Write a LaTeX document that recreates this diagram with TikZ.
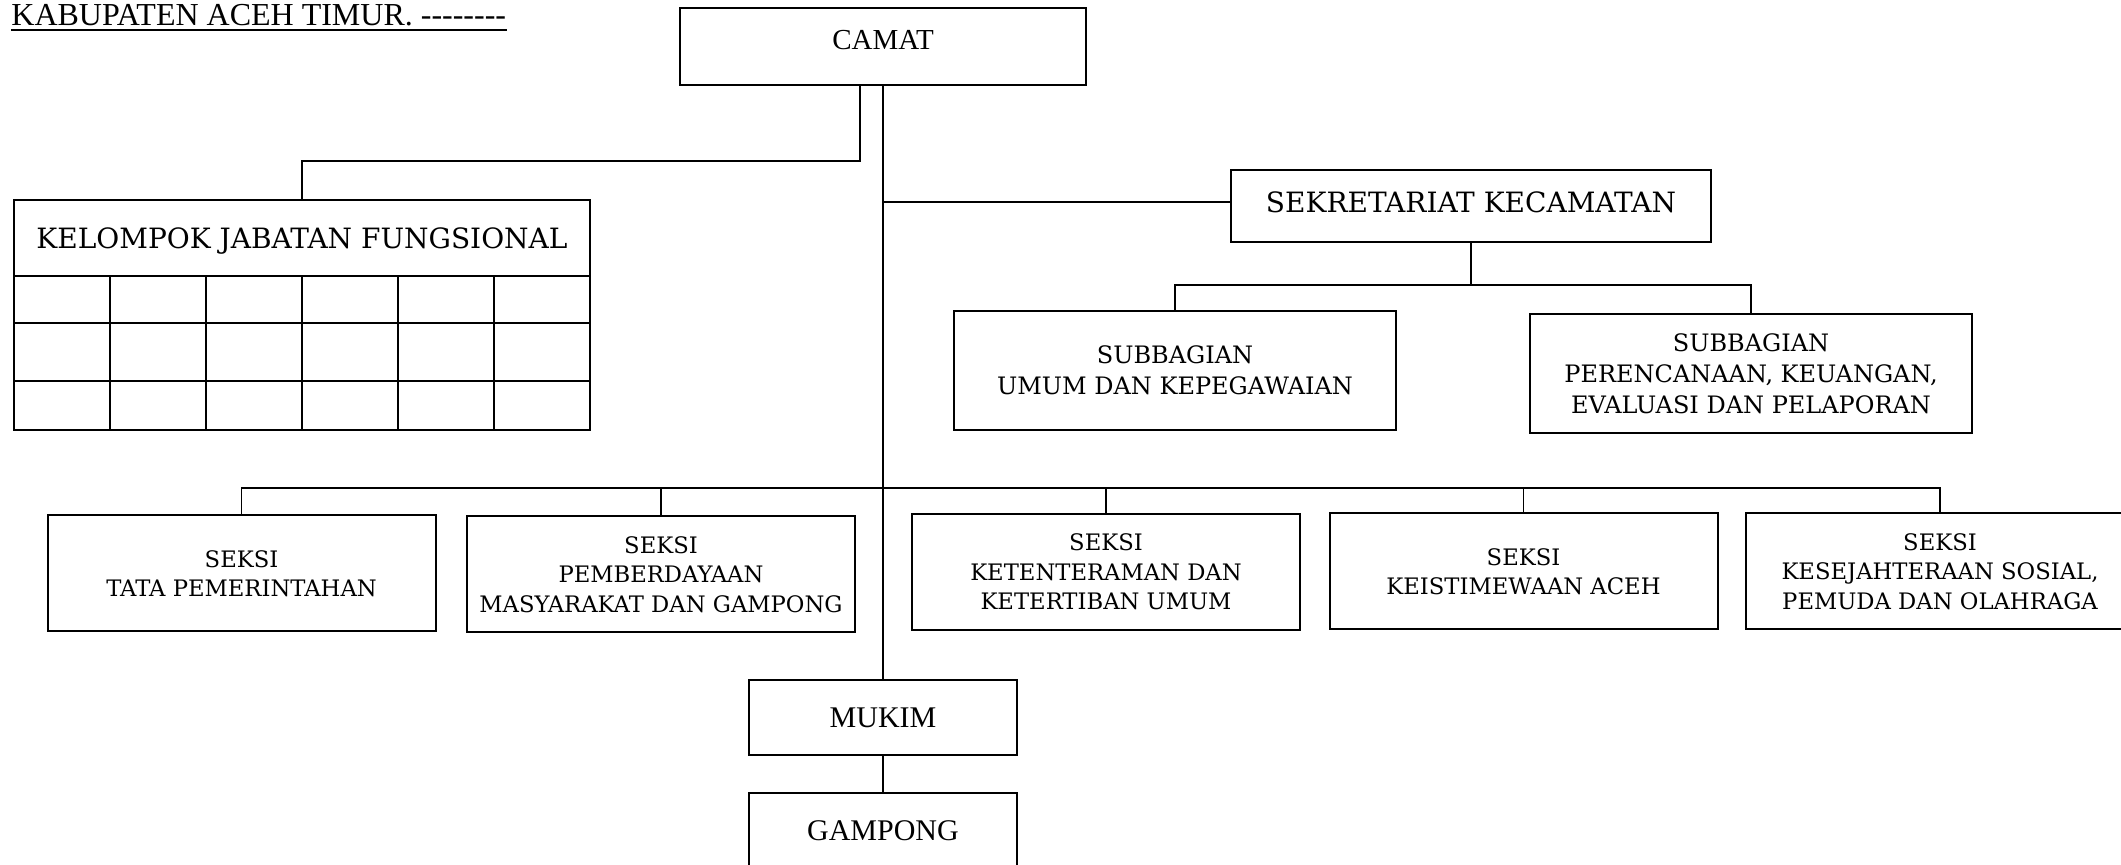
\documentclass[tikz,border=0pt]{standalone}
\usepackage{fontspec}
\setmainfont{Liberation Serif}
\newfontfamily\bk{DejaVu Serif}
\begin{document}
\begin{tikzpicture}[x=0.5pt,y=-0.5pt,
  box/.style={draw, line width=1pt, inner sep=0pt, align=center},
  conn/.style={line width=0.8pt},
  seksibox/.style={box, minimum width=194pt, minimum height=58pt, font=\bk\fontsize{11.35}{14.7}\selectfont},
  subbox/.style={box, minimum width=221pt, minimum height=59.5pt, font=\bk\fontsize{12}{15.5}\selectfont},
  bigfont/.style={font=\bk\fontsize{14}{16}\selectfont},
  tmsbox/.style={box, font=\fontsize{15}{18}\selectfont},
]
\useasboundingbox (0,0) rectangle (2121,865);
\clip (0,0) rectangle (2121,865);

% header
\node[anchor=base west, inner sep=0pt, font=\fontsize{16}{19}\selectfont] (hdr) at (11,26) {KABUPATEN ACEH TIMUR. -{}-{}-{}-{}-{}-{}-{}-};
\draw[line width=1.1pt] ([yshift=-2.2pt]hdr.base west) -- ([yshift=-2.2pt]hdr.base east);

% nodes
\node[box, minimum width=203pt, minimum height=38.5pt,
      label={[font=\fontsize{14.5}{17}\selectfont, yshift=3.2pt]center:CAMAT}] (camat) at (883,46.5) {};
\node[box, minimum width=288pt, minimum height=38pt,
      label={[bigfont, yshift=-1.5pt]center:KELOMPOK JABATAN FUNGSIONAL}] (kjf) at (302,238) {};
\draw[line width=1pt] (14,276) rectangle (590,430);
\foreach \yy in {323,381} \draw[line width=1pt] (14,\yy) -- (590,\yy);
\foreach \xx in {110,206,302,398,494} \draw[line width=1pt] (\xx,276) -- (\xx,430);

\node[box, minimum width=240pt, minimum height=36pt,
      label={[bigfont, yshift=2pt]center:SEKRETARIAT KECAMATAN}] (sek) at (1471,206) {};
\node[subbox] (sub1) at (1175,370.5) {SUBBAGIAN\\UMUM DAN KEPEGAWAIAN};
\node[subbox] (sub2) at (1751,373.5) {SUBBAGIAN\\PERENCANAAN, KEUANGAN,\\EVALUASI DAN PELAPORAN};

\node[seksibox] (s1) at (241.5,573.5) {SEKSI\\TATA PEMERINTAHAN};
\node[seksibox] (s2) at (661,574.5) {SEKSI\\PEMBERDAYAAN\\MASYARAKAT DAN GAMPONG};
\node[seksibox] (s3) at (1106,572) {SEKSI\\KETENTERAMAN DAN\\KETERTIBAN UMUM};
\node[seksibox] (s4) at (1523.5,571.5) {SEKSI\\KEISTIMEWAAN ACEH};
\node[seksibox] (s5) at (1940,571.5) {SEKSI\\KESEJAHTERAAN SOSIAL,\\PEMUDA DAN OLAHRAGA};

\node[tmsbox, minimum width=134pt, minimum height=37.5pt] (mukim) at (883,717.5) {MUKIM};
\node[tmsbox, minimum width=134pt, minimum height=37.5pt] (gampong) at (883,830.5) {GAMPONG};

% connectors
\draw[conn] (camat.south) -- (mukim.north);
\draw[conn] ([xshift=-11.5pt]camat.south) -- ++(0,-37.5pt) -| (kjf.north);
\draw[conn] ([yshift=2pt]sek.west) -- ([yshift=2pt]sek.west -| camat.south);
\draw[conn] (sek.south) -- ++(0,-21pt) coordinate (sb);
\draw[conn] (sub1.north) |- (sb) -| (sub2.north);
\coordinate (bus) at (883,488);
\draw[conn] (s1.north) |- (bus) -| (s5.north);
\draw[conn] (s2.north) -- (s2.north |- bus);
\draw[conn] (s3.north) -- (s3.north |- bus);
\draw[conn] (s4.north) -- (s4.north |- bus);
\draw[conn] (mukim.south) -- (gampong.north);
\end{tikzpicture}
\end{document}
